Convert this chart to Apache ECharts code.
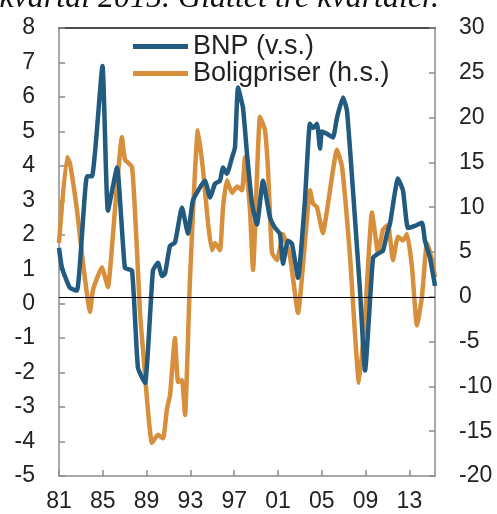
<!DOCTYPE html>
<html>
<head>
<meta charset="utf-8">
<script src="https://cdn.jsdelivr.net/npm/echarts@6/dist/echarts.min.js"></script>
<style>html,body{margin:0;padding:0;background:#fff}#c{width:497px;height:514px}</style>
</head>
<body>
<div id="c"></div>
<script>
// Data (x = decimal year)
const bnpX = [1981.0,1981.27,1982.0,1982.64,1983.56,1984.01,1984.97,1985.47,1986.30,1987.02,1987.67,1988.21,1988.85,1989.58,1990.04,1990.41,1990.68,1991.14,1991.59,1992.23,1992.78,1993.24,1994.33,1994.79,1995.25,1995.70,1995.98,1996.34,1996.80,1997.07,1997.35,1997.80,1998.17,1998.63,1999.08,1999.63,2000.27,2000.73,2001.18,2001.46,2001.91,2002.28,2002.83,2003.46,2003.92,2004.20,2004.56,2004.84,2005.02,2005.47,2006.02,2006.39,2006.94,2007.30,2007.85,2008.49,2008.95,2009.68,2010.13,2010.59,2010.95,2011.23,2011.96,2012.42,2012.87,2013.51,2014.15,2014.42,2014.88,2015.34];
const bnpY = [1.62,1.04,0.46,0.38,3.7,3.7,6.9,2.7,3.95,1.04,0.96,-1.86,-2.3,0.96,1.19,0.8,0.87,1.68,1.77,2.79,2.03,3.0,3.57,3.08,3.48,3.57,3.95,3.77,4.24,4.53,6.27,5.69,4.35,2.9,2.3,3.57,2.5,2.2,2.03,1.16,1.83,1.74,0.75,3.0,5.22,5.1,5.22,4.5,5.0,4.93,4.82,5.4,5.98,5.6,3.28,0.38,-1.94,1.33,1.45,1.54,2.03,2.32,3.63,3.28,2.2,2.26,2.35,1.83,1.33,0.52];
const boligX = [1981.0,1981.73,1982.0,1982.64,1983.19,1983.83,1984.11,1984.93,1985.20,1985.47,1986.11,1986.75,1987.03,1987.67,1988.12,1988.40,1988.67,1989.49,1990.04,1990.50,1990.86,1991.14,1991.59,1991.87,1992.23,1992.51,1992.96,1993.69,1994.15,1994.61,1994.97,1995.25,1995.70,1995.98,1996.34,1996.80,1997.26,1997.71,1997.99,1998.44,1998.72,1999.36,1999.81,2000.09,2000.45,2000.91,2001.46,2002.10,2002.83,2003.46,2003.92,2004.20,2004.56,2005.10,2005.57,2006.39,2006.85,2007.58,2008.40,2008.95,2009.58,2009.86,2010.13,2010.59,2011.05,2011.50,2011.96,2012.42,2012.78,2013.24,2013.69,2014.15,2014.61,2015.07,2015.34];
const boligY = [6.0,15.6,14.9,9.7,3.8,-1.7,0.8,3.3,2.2,1.1,9.7,17.8,15.3,14.5,5.2,-1.8,-5.9,-16.3,-15.4,-15.8,-12.5,-11,-4.6,-9.5,-9.3,-13.2,1.9,18.6,14.2,8.2,5.2,6.0,5.2,10,13,11.6,12.3,11.9,15.6,9.7,3.0,20.1,18.6,14.2,4.9,4.1,7.0,4.5,-1.8,6.0,11.9,10.4,10,7.1,10.4,16.4,14.5,4.5,-9.6,-2.2,9.4,7.1,4.9,7.5,8.0,4.1,6.7,6.3,7.0,3.3,-3.2,0,6.0,4.1,2.2];
const seriesNames = ['BNP (v.s.)', 'Boligpriser (h.s.)'];
const titleText = 'kvartal 2015. Glattet tre kvartaler.';
const xMin = 1981, xMax = 2015.34;

const pairs = (xs, ys) => xs.map((x, i) => [x, ys[i]]);
const font = 'Liberation Sans';
const axisGray = '#8c8c8c';
const labelColor = '#222';
const chart = echarts.init(document.getElementById('c'));
chart.setOption({
  animation: false,
  graphic: [{
    type: 'text', x: 439, y: 15,
    style: { text: titleText, font: 'italic 32px "Liberation Serif"', fill: '#111',
      align: 'right', verticalAlign: 'bottom' }
  }],
  grid: { left: 59, right: 62, top: 28, bottom: 38 },
  legend: {
    orient: 'vertical', left: 133, top: 33, padding: 0, itemGap: 0,
    itemWidth: 55, itemHeight: 5, icon: 'rect',
    textStyle: { fontFamily: font, fontSize: 27, lineHeight: 22, color: labelColor },
    data: seriesNames
  },
  xAxis: [{
    type: 'value', min: xMin, max: xMax, interval: 4,
    axisLine: { onZero: false, lineStyle: { color: axisGray, width: 1.5 } },
    axisTick: { inside: true, length: 6, lineStyle: { color: axisGray, width: 1.5 } },
    splitLine: { show: false },
    axisLabel: { showMaxLabel: false, margin: 14, fontFamily: font, fontSize: 23, color: labelColor,
      formatter: v => String(Math.round(v) % 100).padStart(2, '0') }
  }, {
    type: 'value', position: 'top', min: xMin, max: xMax,
    axisLine: { onZero: false, lineStyle: { color: '#111', width: 1.5 } },
    axisTick: { show: false }, axisLabel: { show: false }, splitLine: { show: false }
  }],
  yAxis: [{
    type: 'value', min: -5, max: 8, interval: 1, position: 'left',
    axisLine: { show: true, onZero: false, lineStyle: { color: axisGray, width: 1.5 } },
    axisTick: { show: true, inside: true, length: 6, lineStyle: { color: axisGray, width: 1.5 } },
    splitLine: { show: false },
    axisLabel: { margin: 24, fontFamily: font, fontSize: 23, color: labelColor }
  }, {
    type: 'value', min: -20, max: 30, interval: 5, position: 'right',
    axisLine: { show: true, onZero: false, lineStyle: { color: axisGray, width: 1.5 } },
    axisTick: { show: true, inside: true, length: 6, lineStyle: { color: axisGray, width: 1.5 } },
    splitLine: { show: false },
    axisLabel: { margin: 24, fontFamily: font, fontSize: 23, color: labelColor }
  }],
  series: [{
    name: seriesNames[1], type: 'line', yAxisIndex: 1, showSymbol: false,
    data: pairs(boligX, boligY), smooth: 0.15,
    lineStyle: { color: '#d88f3c', width: 4.5 }, itemStyle: { color: '#d88f3c' },
    markLine: { silent: true, symbol: 'none', label: { show: false },
      lineStyle: { color: '#000', width: 1.2, type: 'solid' }, data: [{ yAxis: 0 }] },
    z: 2
  }, {
    name: seriesNames[0], type: 'line', yAxisIndex: 0, showSymbol: false,
    data: pairs(bnpX, bnpY), smooth: 0.15,
    lineStyle: { color: '#225b7f', width: 4.5 }, itemStyle: { color: '#225b7f' },
    z: 3
  }]
});
</script>
</body>
</html>
